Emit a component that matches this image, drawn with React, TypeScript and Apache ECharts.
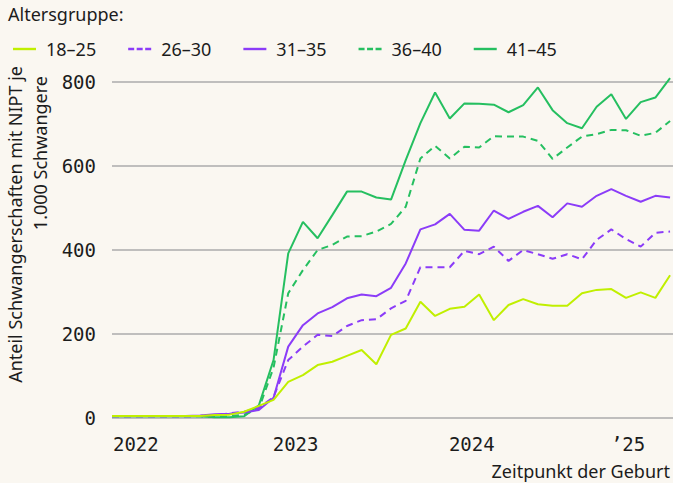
import React, { useEffect, useRef } from "react";
import * as echarts from "echarts";

// Monthly observations (points sit mid-month), Dec 2021 – Feb 2025
const months = [
  "2021-12",
  "2022-01", "2022-02", "2022-03", "2022-04", "2022-05", "2022-06",
  "2022-07", "2022-08", "2022-09", "2022-10", "2022-11", "2022-12",
  "2023-01", "2023-02", "2023-03", "2023-04", "2023-05", "2023-06",
  "2023-07", "2023-08", "2023-09", "2023-10", "2023-11", "2023-12",
  "2024-01", "2024-02", "2024-03", "2024-04", "2024-05", "2024-06",
  "2024-07", "2024-08", "2024-09", "2024-10", "2024-11", "2024-12",
  "2025-01", "2025-02",
];

const ageGroups = ["18–25", "26–30", "31–35", "36–40", "41–45"];

const g18_25 = [5, 5, 5, 5, 5, 5, 5, 7, 8, 15, 29, 43, 86, 102, 126, 134, 148, 162, 128, 198, 213, 277, 243, 260, 265, 294, 233, 269, 283, 271, 267, 267, 297, 305, 307, 286, 299, 286, 340];
const g26_30 = [4, 4, 4, 4, 4, 4, 5, 7, 11, 15, 24, 50, 138, 170, 198, 195, 219, 233, 235, 261, 279, 359, 359, 359, 398, 390, 408, 374, 400, 390, 379, 390, 378, 424, 449, 426, 408, 441, 444];
const g31_35 = [5, 5, 5, 5, 5, 5, 6, 9, 10, 13, 19, 48, 170, 221, 249, 264, 285, 294, 290, 310, 368, 449, 461, 486, 448, 446, 494, 474, 491, 505, 478, 511, 503, 529, 545, 529, 515, 529, 525];
const g36_40 = [4, 4, 4, 4, 4, 4, 4, 3, 4, 8, 22, 120, 297, 352, 400, 412, 432, 433, 444, 462, 503, 618, 648, 618, 646, 644, 671, 670, 670, 660, 617, 644, 670, 676, 686, 685, 672, 679, 707];
const g41_45 = [4, 4, 4, 4, 4, 4, 4, 2, 2, 4, 30, 138, 392, 467, 428, 483, 539, 539, 525, 520, 614, 702, 775, 713, 749, 748, 746, 728, 745, 787, 733, 702, 690, 741, 771, 712, 752, 763, 809];

const yearStarts = ["2022-01", "2023-01", "2024-01", "2025-01"];
const yearLabels = ["2022", "2023", "2024", "’25"];

const LIME = "#c0ef00";
const PURPLE = "#8b3cf8";
const GREEN = "#25bf60";
const BG = "#faf7f1";
const TXT = "#1c1c1c";
const SANS = "'Noto Sans', 'Open Sans', sans-serif";
const MONO = "'DejaVu Sans Mono', monospace";

const ICON_SOLID = "path://M0,0h23v2.4h-23z";
const ICON_DASH = "path://M0,0h6v2.4h-6z M8.5,0h6v2.4h-6z M17,0h6v2.4h-6z";

export default function App() {
  const ref = useRef<HTMLDivElement>(null);

  useEffect(() => {
    if (!ref.current) return;
    const chart = echarts.init(ref.current, null, { renderer: "svg" });

    const pts = (arr: number[]) => arr.map((v, i) => [i, v]);
    const yearPos = yearStarts.map((m) => months.indexOf(m) - 0.5);
    const dashedGroups = ["26–30", "36–40"];

    const mk = (name: string, data: number[], color: string, z: number) => ({
      name,
      type: "line",
      data: pts(data),
      symbol: "none",
      clip: false,
      z,
      lineStyle: { color, width: 2, type: dashedGroups.includes(name) ? [7, 5] : "solid" },
      itemStyle: { color },
      emphasis: { disabled: true },
    });

    chart.setOption({
      animation: false,
      backgroundColor: BG,
      grid: { left: 112, right: 0, top: 82, bottom: 65, containLabel: false },
      legend: {
        data: ageGroups.map((g) => ({
          name: g,
          icon: dashedGroups.includes(g) ? ICON_DASH : ICON_SOLID,
        })),
        left: 8,
        top: 35,
        itemWidth: 23,
        itemHeight: 14,
        itemGap: 32,
        symbolKeepAspect: true,
        textStyle: { fontFamily: SANS, fontSize: 18, color: TXT, padding: [0, 0, 0, 5] },
        selectedMode: false,
      },
      xAxis: {
        type: "value",
        min: 0,
        max: 38.2,
        axisLine: { show: false },
        axisTick: { show: false },
        splitLine: { show: false },
        axisLabel: {
          customValues: yearPos,
          margin: 16,
          fontFamily: MONO,
          fontSize: 19,
          color: TXT,
          formatter: (v: number) => {
            const i = yearPos.findIndex((p) => Math.abs(p - v) < 0.01);
            if (i < 0) return "";
            if (i === 0) return "{first|" + yearLabels[i] + "}";
            if (i === yearLabels.length - 1) return "{last|" + yearLabels[i] + "}";
            return "{mid|" + yearLabels[i] + "}";
          },
          rich: {
            first: { fontFamily: MONO, fontSize: 19, color: TXT, padding: [0, 0, 0, 33] },
            mid: { fontFamily: MONO, fontSize: 19, color: TXT },
            last: { fontFamily: MONO, fontSize: 19, color: TXT, padding: [0, 40, 0, 0] },
          },
        },
      },
      yAxis: {
        type: "value",
        min: 0,
        max: 800,
        interval: 200,
        axisLine: { show: false },
        axisTick: { show: false },
        axisLabel: { margin: 16, fontFamily: MONO, fontSize: 19, color: TXT },
        splitLine: { lineStyle: { color: "#ababab", width: 1.5 } },
      },
      graphic: [
        {
          type: "text",
          left: 8,
          top: 5,
          style: { text: "Altersgruppe:", font: `18px ${SANS}`, fill: TXT },
        },
        {
          type: "text",
          x: 6,
          y: 66,
          rotation: Math.PI / 2,
          style: {
            text: "Anteil Schwangerschaften mit NIPT je",
            font: `18px ${SANS}`,
            fill: TXT,
            align: "right",
            verticalAlign: "top",
          },
        },
        {
          type: "text",
          x: 31,
          y: 76,
          rotation: Math.PI / 2,
          style: {
            text: "1.000 Schwangere",
            font: `18px ${SANS}`,
            fill: TXT,
            align: "right",
            verticalAlign: "top",
          },
        },
        {
          type: "text",
          x: 670,
          y: 471,
          style: {
            text: "Zeitpunkt der Geburt",
            font: `18px ${SANS}`,
            fill: TXT,
            align: "right",
            verticalAlign: "middle",
          },
        },
      ],
      series: [
        mk("41–45", g41_45, GREEN, 2),
        mk("36–40", g36_40, GREEN, 3),
        mk("31–35", g31_35, PURPLE, 4),
        mk("26–30", g26_30, PURPLE, 5),
        mk("18–25", g18_25, LIME, 6),
      ],
    });

    return () => chart.dispose();
  }, []);

  return (
    <div
      ref={ref}
      style={{ position: "fixed", left: 0, top: 0, width: 673, height: 483, background: BG }}
    />
  );
}
